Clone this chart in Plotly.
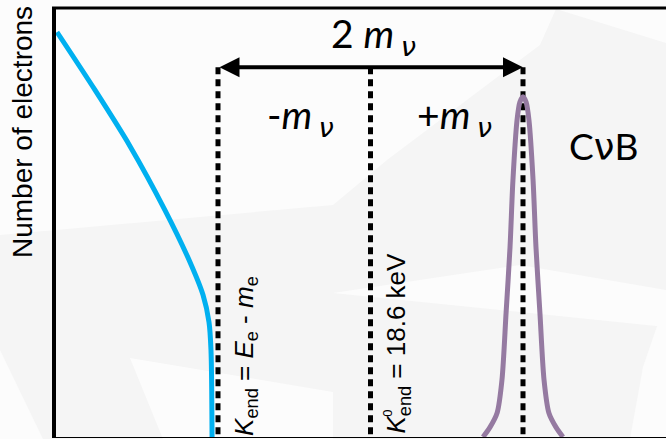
import plotly.graph_objects as go

# Energy axis in units of the neutrino mass, centred on the endpoint K0_end.
# Vertical axis: relative number of electrons (arbitrary units).

# Tritium beta spectrum near the endpoint (blue)
beta_x = [-2.056, -1.807, -1.577, -1.348, -1.184, -1.098, -1.059, -1.046, -1.039]
beta_y = [0.944, 0.809, 0.678, 0.529, 0.408, 0.331, 0.268, 0.203, 0.0]

# Relic-neutrino capture peak (purple)
cnb_x = [0.738, 0.784, 0.830, 0.862, 0.889, 0.915, 0.934, 0.961, 0.980, 1.000,
         1.020, 1.039, 1.066, 1.085, 1.111, 1.138, 1.170, 1.216, 1.262]
cnb_y = [0.0, 0.023, 0.056, 0.133, 0.289, 0.443, 0.599, 0.739, 0.781, 0.793,
         0.781, 0.739, 0.599, 0.443, 0.289, 0.133, 0.056, 0.023, 0.0]

# Reference energies: K_end, K0_end and K0_end + m_nu
marker_x = [-1.0, 0.0, 1.0]
marker_top = 0.862

W, H = 666, 439
L, R, T, B = 56, 0, 8, 2
PW, PH = W - L - R, H - T - B


def px(xp, yp):
    """pixel position on the page -> paper coordinates"""
    return (xp - L) / PW, (H - B - yp) / PH


# faint slide watermark behind the plot
watermark = [
    [(0, 0), (560, 0), (540, 45), (387, 160), (333, 205), (0, 235)],
    [(0, 350), (0, 439), (43, 439)],
    [(130, 358), (333, 392), (333, 439), (163, 439)],
    [(333, 293), (666, 327), (666, 290), (520, 265)],
    [(527, 0), (666, 0), (666, 43)],
    [(643, 367), (666, 300), (666, 439), (630, 439)],
]

shapes = []
for poly in watermark:
    pts = [px(a, b) for a, b in poly]
    path = "M " + " L ".join(f"{a:.4f},{b:.4f}" for a, b in pts) + " Z"
    shapes.append(dict(type="path", path=path, xref="paper", yref="paper",
                       fillcolor="#fcfcfc", line=dict(width=0), layer="below"))

# top frame line
x0, y0 = px(52, 8)
shapes.append(dict(type="line", xref="paper", yref="paper", x0=x0, x1=1.0,
                   y0=y0, y1=y0, line=dict(color="black", width=3)))

fig = go.Figure()

for xv in marker_x:
    fig.add_trace(go.Scatter(
        x=[xv, xv], y=[marker_top, 0], mode="lines",
        line=dict(color="black", width=5, dash="7px,5px"),
        hoverinfo="skip", showlegend=False))

fig.add_trace(go.Scatter(
    x=beta_x, y=beta_y, mode="lines",
    line=dict(color="#00b0f0", width=5, shape="spline", smoothing=0.8),
    showlegend=False))

fig.add_trace(go.Scatter(
    x=cnb_x, y=cnb_y, mode="lines",
    line=dict(color="#957aa1", width=5, shape="spline", smoothing=0.8),
    showlegend=False))

math_font = dict(family="Lato", size=39, color="black")
label_font = dict(family="Liberation Sans, Arial", size=26, color="black")
NU = '<span style="font-family:DejaVu Sans">ν</span>'

annotations = [
    # double arrow spanning 2 m_nu
    dict(x=marker_x[2], y=marker_top, ax=marker_x[0], ay=marker_top,
         xref="x", yref="y", axref="x", ayref="y", text="",
         showarrow=True, arrowhead=2, startarrowhead=2, arrowside="end+start",
         arrowsize=1, arrowwidth=4, arrowcolor="black", standoff=0, startstandoff=0),
    dict(x=0.02, y=0.935, xref="x", yref="y", text=f"2 <i>m</i><sub><i> {NU}</i></sub>",
         showarrow=False, font=math_font, xanchor="center", yanchor="middle"),
    dict(x=-0.46, y=0.745, xref="x", yref="y", text=f"-<i>m</i><sub><i> {NU}</i></sub>",
         showarrow=False, font=math_font, xanchor="center", yanchor="middle"),
    dict(x=0.55, y=0.745, xref="x", yref="y", text=f"+<i>m</i><sub><i> {NU}</i></sub>",
         showarrow=False, font=math_font, xanchor="center", yanchor="middle"),
    dict(x=1.53, y=0.678, xref="x", yref="y", text=f"C{NU}B",
         showarrow=False, font=dict(family="Lato", size=37, color="black"),
         xanchor="center", yanchor="middle"),
    dict(x=-0.82, y=0.19, xref="x", yref="y", textangle=-90,
         text="<i>K</i><sub>end</sub> = <i>E</i><sub>e</sub> - <i>m</i><sub>e</sub>",
         showarrow=False, font=label_font, xanchor="center", yanchor="middle"),
    dict(x=0.18, y=0.22, xref="x", yref="y", textangle=-90,
         text="<i>K</i><sub>end</sub> = 18.6 keV",
         showarrow=False, font=label_font, xanchor="center", yanchor="middle"),
    dict(x=0.11, y=0.055, xref="x", yref="y", textangle=-90, text="0",
         showarrow=False, font=dict(family="Liberation Sans, Arial", size=13, color="black"),
         xanchor="center", yanchor="middle"),
    dict(x=px(22, 0)[0], y=px(0, 132)[1], xref="paper", yref="paper", textangle=-90,
         text="Number of electrons", showarrow=False, xanchor="center", yanchor="middle",
         font=dict(family="Liberation Sans, Arial", size=28, color="black")),
]

fig.update_layout(
    width=W, height=H,
    margin=dict(l=L, r=R, t=T, b=B),
    paper_bgcolor="#f5f5f5",
    plot_bgcolor="rgba(0,0,0,0)",
    shapes=shapes,
    annotations=annotations,
    xaxis=dict(range=[(L - 370.5) / 152.5, (W - R - 370.5) / 152.5],
               showgrid=False, zeroline=False, showticklabels=False, ticks="",
               showline=True, linecolor="black", linewidth=1, fixedrange=True),
    yaxis=dict(range=[0, 1], showgrid=False, zeroline=False, showticklabels=False,
               ticks="", showline=True, linecolor="black", linewidth=4, fixedrange=True),
)

fig.write_html("out.html")
